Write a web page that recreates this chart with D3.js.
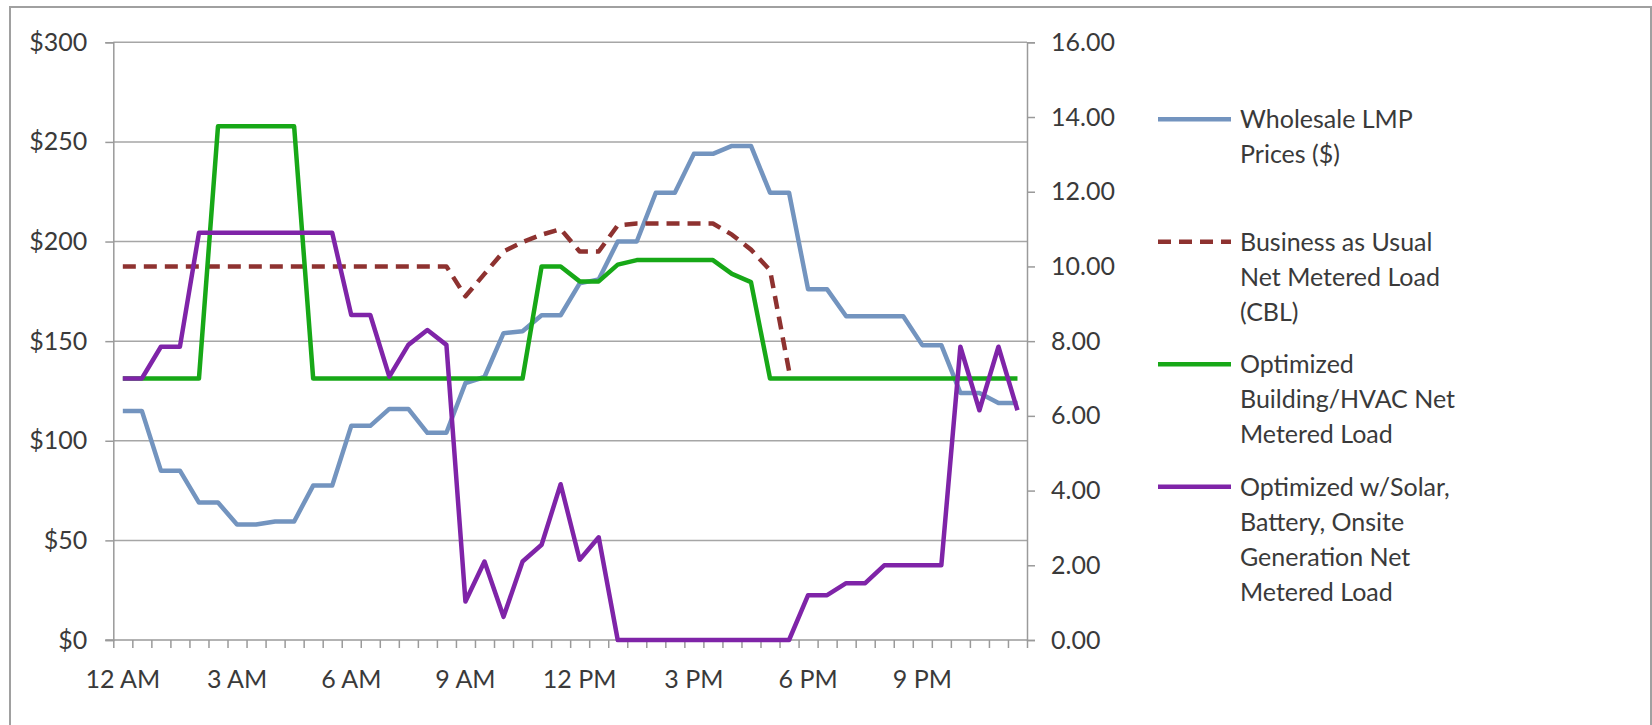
<!DOCTYPE html>
<html>
<head>
<meta charset="utf-8">
<script src="https://cdn.jsdelivr.net/npm/d3@7"></script>
<style>
  html, body { margin: 0; padding: 0; background: #fff; }
  svg text { font-family: Lato, "Open Sans", "Liberation Sans", sans-serif; fill: #3A3A3A; }
</style>
</head>
<body>
<svg id="chart" width="1652" height="725"></svg>
<script>
// ---------- DATA ----------
const categories = [
  "12:00 AM","12:30 AM","1:00 AM","1:30 AM","2:00 AM","2:30 AM","3:00 AM","3:30 AM",
  "4:00 AM","4:30 AM","5:00 AM","5:30 AM","6:00 AM","6:30 AM","7:00 AM","7:30 AM",
  "8:00 AM","8:30 AM","9:00 AM","9:30 AM","10:00 AM","10:30 AM","11:00 AM","11:30 AM",
  "12:00 PM","12:30 PM","1:00 PM","1:30 PM","2:00 PM","2:30 PM","3:00 PM","3:30 PM",
  "4:00 PM","4:30 PM","5:00 PM","5:30 PM","6:00 PM","6:30 PM","7:00 PM","7:30 PM",
  "8:00 PM","8:30 PM","9:00 PM","9:30 PM","10:00 PM","10:30 PM","11:00 PM","11:30 PM"
];
const xTickCategories = ["12:00 AM","3:00 AM","6:00 AM","9:00 AM","12:00 PM","3:00 PM","6:00 PM","9:00 PM"];
const xTickLabels = ["12 AM","3 AM","6 AM","9 AM","12 PM","3 PM","6 PM","9 PM"];
const leftTicks = [0,50,100,150,200,250,300];
const rightTicks = [0,2,4,6,8,10,12,14,16];

// Wholesale LMP Prices ($) - left axis
const lmpPrices = [115,115,85,85,69,69,58,58,59.5,59.5,77.5,77.5,107.5,107.5,116,116,
  104,104,129,132,154,155,163,163,179,181,200,200,224.5,224.5,244,244,
  248,248,224.5,224.5,176,176,162.5,162.5,162.5,162.5,148,148,124,124,119,119];

// Business as Usual Net Metered Load (CBL) - right axis
const bauLoad = [10,10,10,10,10,10,10,10,10,10,10,10,10,10,10,10,
  10,10,9.2,9.8,10.4,10.65,10.85,11,10.4,10.4,11.1,11.15,11.15,11.15,11.15,11.15,
  10.85,10.45,9.9,7.2,null,null,null,null,null,null,null,null,null,null,null,null];

// Optimized Building/HVAC Net Metered Load - right axis
const hvacLoad = [7,7,7,7,7,13.75,13.75,13.75,13.75,13.75,7,7,7,7,7,7,
  7,7,7,7,7,7,10,10,9.6,9.6,10.05,10.17,10.17,10.17,10.17,10.17,
  9.8,9.58,7,7,7,7,7,7,7,7,7,7,7,7,7,7];

// Optimized w/Solar, Battery, Onsite Generation Net Metered Load - right axis
const solarLoad = [7,7,7.85,7.85,10.9,10.9,10.9,10.9,10.9,10.9,10.9,10.9,8.7,8.7,7.05,7.9,
  8.3,7.9,1.03,2.1,0.62,2.1,2.55,4.17,2.15,2.75,0,0,0,0,0,0,
  0,0,0,0,1.2,1.2,1.52,1.52,2,2,2,2,7.85,6.15,7.85,6.15];

const legendLabels = [
  ["Wholesale LMP","Prices ($)"],
  ["Business as Usual","Net Metered Load","(CBL)"],
  ["Optimized","Building/HVAC Net","Metered Load"],
  ["Optimized w/Solar,","Battery, Onsite","Generation Net","Metered Load"]
];

// ---------- STYLE / LAYOUT ----------
const colors = ["#7394BF", "#8E3230", "#17A817", "#7F24A8"];
const gridColor = "#A6A6A6";
const axisColor = "#9A9A9A";
const fontSize = 25;
const seriesWidth = 4.5;

const svg = d3.select("#chart");
const plotLeft = 113.3, plotRight = 1027, plotTop = 42.3, plotBottom = 640;

const x = d3.scaleBand().domain(categories).range([plotLeft, plotRight]).padding(0);
const xIdx = d3.scaleLinear().domain([0, categories.length]).range([plotLeft, plotRight]);
const yL = d3.scaleLinear().domain([0, 300]).range([plotBottom, plotTop]);
const yR = d3.scaleLinear().domain([0, 16]).range([plotBottom, plotTop]);

// outer border
svg.append("rect").attr("x", 10).attr("y", 7).attr("width", 1641).attr("height", 740)
  .attr("fill", "none").attr("stroke", "#A0A0A0").attr("stroke-width", 2);

// gridlines
svg.append("g").selectAll("line").data(leftTicks.filter(d => d > 0)).join("line")
  .attr("x1", plotLeft).attr("x2", plotRight)
  .attr("y1", d => yL(d)).attr("y2", d => yL(d))
  .attr("stroke", gridColor).attr("stroke-width", 1.5);

// left axis
const gL = svg.append("g").attr("transform", `translate(${plotLeft},0)`)
  .call(d3.axisLeft(yL).tickValues(leftTicks).tickSize(8).tickPadding(18).tickFormat(d => "$" + d));
gL.selectAll("path.domain").attr("stroke", axisColor).attr("stroke-width", 1.5);
gL.selectAll(".tick line").attr("stroke", axisColor).attr("stroke-width", 1.5);
gL.selectAll("text").style("font-size", fontSize + "px").attr("fill", "#3A3A3A");

// right axis
const gR = svg.append("g").attr("transform", `translate(${plotRight},0)`)
  .call(d3.axisRight(yR).tickValues(rightTicks).tickSize(8).tickPadding(16).tickFormat(d3.format(".2f")));
gR.selectAll("path.domain").attr("stroke", axisColor).attr("stroke-width", 1.5);
gR.selectAll(".tick line").attr("stroke", axisColor).attr("stroke-width", 1.5);
gR.selectAll("text").style("font-size", fontSize + "px").attr("fill", "#3A3A3A");

// x axis ticks (band boundaries)
const gX = svg.append("g").attr("transform", `translate(0,${plotBottom})`)
  .call(d3.axisBottom(xIdx).tickValues(d3.range(categories.length + 1)).tickSize(8).tickFormat(""));
gX.selectAll("path.domain").remove();
gX.selectAll(".tick line").attr("stroke", axisColor).attr("stroke-width", 1.5);
svg.append("line").attr("x1", plotLeft - 8).attr("x2", plotRight).attr("y1", plotBottom).attr("y2", plotBottom)
  .attr("stroke", axisColor).attr("stroke-width", 1.5);

// x axis labels
const gXL = svg.append("g").attr("transform", `translate(0,${plotBottom})`)
  .call(d3.axisBottom(x).tickValues(xTickCategories).tickSize(0).tickPadding(30)
    .tickFormat((d, i) => xTickLabels[i]));
gXL.selectAll("path.domain").remove();
gXL.selectAll("text").style("font-size", fontSize + "px").attr("fill", "#3A3A3A");

// series
const cx = d => x(d) + x.bandwidth() / 2;
const series = [
  { values: lmpPrices, y: yL, color: colors[0], dash: null },
  { values: bauLoad, y: yR, color: colors[1], dash: "13,8" },
  { values: hvacLoad, y: yR, color: colors[2], dash: null },
  { values: solarLoad, y: yR, color: colors[3], dash: null }
];
series.forEach(s => {
  const line = d3.line()
    .defined(d => d.v !== null)
    .x(d => cx(d.c))
    .y(d => s.y(d.v));
  svg.append("path")
    .datum(categories.map((c, i) => ({ c, v: s.values[i] })))
    .attr("d", line)
    .attr("fill", "none")
    .attr("stroke", s.color)
    .attr("stroke-width", seriesWidth)
    .attr("stroke-linejoin", "round")
    .attr("stroke-dasharray", s.dash);
});

// legend
const legendY = [119.3, 241.8, 364.3, 486.8];
const lineH = 35;
const lg = svg.append("g");
legendLabels.forEach((lines, i) => {
  lg.append("line").attr("x1", 1158).attr("x2", 1231)
    .attr("y1", legendY[i]).attr("y2", legendY[i])
    .attr("stroke", colors[i]).attr("stroke-width", seriesWidth)
    .attr("stroke-dasharray", series[i].dash);
  const t = lg.append("text").attr("x", 1240).attr("y", legendY[i])
    .style("font-size", fontSize + "px");
  lines.forEach((ln, j) => {
    t.append("tspan").attr("x", 1240).attr("y", legendY[i] + j * lineH)
      .attr("dy", "0.35em").text(ln);
  });
});
</script>
</body>
</html>
